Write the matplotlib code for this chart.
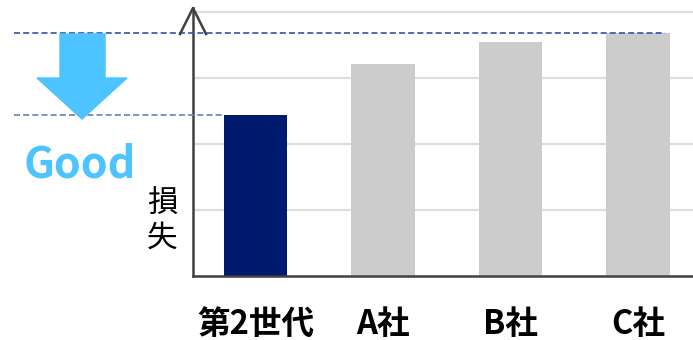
import matplotlib
matplotlib.use("Agg")
import matplotlib.pyplot as plt
from matplotlib.patches import Polygon
from matplotlib.lines import Line2D

plt.rcParams['font.family'] = ['Noto Sans CJK JP', 'DejaVu Sans']

# data (grid step = 1)
labels = ["第2世代", "A社", "B社", "C社"]
losses = [2.44, 3.21, 3.55, 3.68]
bar_colors = ["#001A6E", "#CCCCCC", "#CCCCCC", "#CCCCCC"]
grid_levels = [1, 2, 3, 4]

W, H = 693, 340


def px(x, y):
    # pixel position (from top-left) -> figure fraction
    return (x / W, 1 - y / H)


fig = plt.figure(figsize=(W / 100, H / 100), dpi=100)
ax = fig.add_axes([193 / W, (H - 276) / H, 500 / W, 268 / H])

xs = list(range(len(labels)))
ax.bar(xs, losses, width=0.5, color=bar_colors, zorder=2)

ax.set_xlim(-0.49, 3.43)
ax.set_ylim(0, 268 / 66)
ax.set_yticks(grid_levels)
ax.set_yticklabels([])
ax.yaxis.grid(True, color="#DDDDDD", lw=1.6)
ax.set_axisbelow(True)
ax.tick_params(axis="both", length=0)
ax.set_xticks(xs)
ax.set_xticklabels(labels, fontsize=23.5, fontweight="bold")
ax.tick_params(axis="x", pad=23)

for side in ("top", "right"):
    ax.spines[side].set_visible(False)
for side in ("left", "bottom"):
    ax.spines[side].set_color("#404040")
    ax.spines[side].set_linewidth(1.8)

# open arrow head on top of the y axis
xa, ya = zip(px(180, 34), px(193, 8), px(206, 34))
fig.add_artist(Line2D(xa, ya, color="#404040", lw=1.8, transform=fig.transFigure))

# dashed reference lines at the best (ours) and the worst (C) level
x_left = (14 - 255.5) / 127.5
ax.plot([x_left, 3.21], [losses[3], losses[3]], ls="--", color="#3550B0",
        lw=1.2, dashes=(3.6, 1.9), clip_on=False, zorder=5)
ax.plot([x_left, -0.25], [losses[0], losses[0]], ls="--", color="#6A7BC0",
        lw=1.2, dashes=(3.6, 1.9), clip_on=False, zorder=5)

# big "down is good" arrow
arrow_pts = [px(60, 34), px(105, 34), px(105, 78), px(127, 78),
             px(82, 119), px(37, 78), px(60, 78)]
fig.add_artist(Polygon(arrow_pts, closed=True, color="#4DC3FF",
                       transform=fig.transFigure, zorder=1))

fig.text(*px(24, 178), "Good", fontsize=31, fontweight="bold",
         color="#4DC3FF", ha="left", va="baseline")
fig.text(*px(162, 221), "損\n失", fontsize=22, ha="center", va="center",
         linespacing=1.15)

fig.savefig("out.png", dpi=100)
